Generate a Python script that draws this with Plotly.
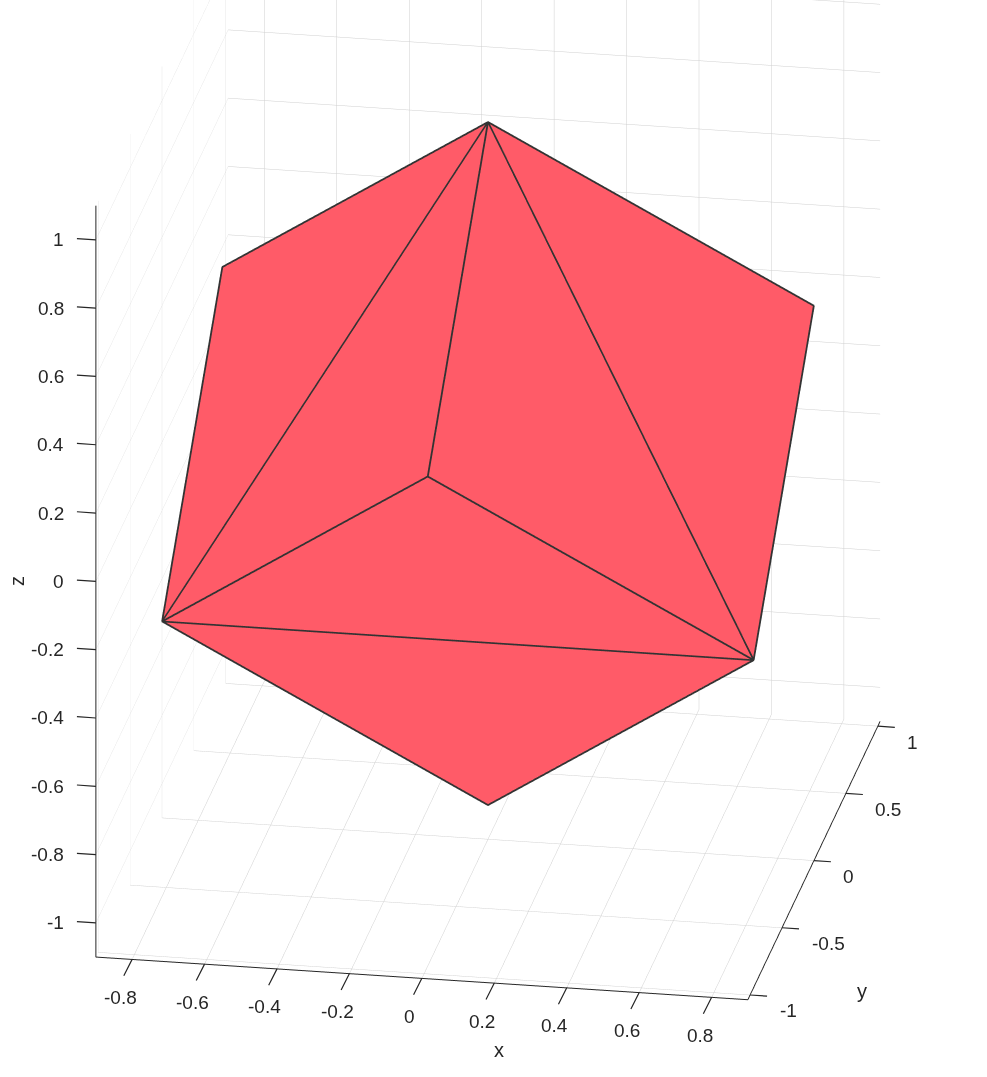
import plotly.graph_objects as go

# Cube vertices: N T L R UL UR B O
vx = [0.0, 0.0, -0.8165, 0.8165, -0.8165, 0.8165, 0.0, 0.0]
vy = [-0.9428, 0.0, -0.4714, -0.4714, 0.4714, 0.4714, 0.0, 0.9428]
vz = [0.3333, 1.0, -0.3333, -0.3333, 0.3333, 0.3333, -1.0, -0.3333]
tri_i = [0, 4, 0, 5, 0, 3, 7, 7, 7, 7, 7, 7]
tri_j = [1, 1, 1, 1, 2, 2, 4, 1, 4, 2, 5, 3]
tri_k = [2, 2, 3, 3, 3, 6, 1, 5, 2, 6, 3, 6]
x_ticks = [-0.8, -0.6, -0.4, -0.2, 0, 0.2, 0.4, 0.6, 0.8]
y_ticks = [-1, -0.5, 0, 0.5, 1]
z_ticks = [-1, -0.8, -0.6, -0.4, -0.2, 0, 0.2, 0.4, 0.6, 0.8, 1]
x_range = [-0.9, 0.9]
y_range = [-1.035, 1.035]
z_range = [-1.1, 1.1]

FACE = "#ff5b68"
EDGE = "#333333"
TEXT = "#262626"
GRID = "#cfcfcf"
view_dir = (0.1612, -0.914, 0.371)
view_dist = 2.0
view_center = (0.01905, -0.0491, -0.1292)
box_scale = 1.366
face_inset = 0.997  # keeps the faces just behind their edge lines
edge_pull = 0.9999  # keeps tick anchors just inside the axis range
TICK_FONT = dict(family="Liberation Sans", size=19, color=TEXT)

edge_x, edge_y, edge_z = [], [], []
for a, b, c in zip(tri_i, tri_j, tri_k):
    for v in (a, b, c, a):
        edge_x.append(vx[v]); edge_y.append(vy[v]); edge_z.append(vz[v])
    edge_x.append(None); edge_y.append(None); edge_z.append(None)

fig = go.Figure()
fig.add_trace(go.Mesh3d(x=[v * face_inset for v in vx], y=[v * face_inset for v in vy],
                        z=[v * face_inset for v in vz], i=tri_i, j=tri_j, k=tri_k, color=FACE, opacity=1,
                        flatshading=True, hoverinfo="skip",
                        lighting=dict(ambient=1, diffuse=0, specular=0, fresnel=0, roughness=1)))
fig.add_trace(go.Scatter3d(x=edge_x, y=edge_y, z=edge_z, mode="lines", hoverinfo="skip",
                           line=dict(color=EDGE, width=3.6)))

def axis(ticks, rng):
    return dict(title=dict(text=""), range=rng, tickmode="array", tickvals=ticks,
                showticklabels=False, ticks="",
                showbackground=False, showgrid=True, gridcolor=GRID, gridwidth=1,
                showline=True, linecolor=TEXT, linewidth=2, zeroline=False, showspikes=False)

def tick_marks(x, y, z, text, ax, ay, xanchor, xshift, yshift):
    mark = dict(x=x, y=y, z=z, showarrow=True, arrowhead=0, arrowwidth=1.2, arrowcolor=TEXT, ax=ax, ay=ay)
    label = dict(x=x, y=y, z=z, text=text, showarrow=False, xanchor=xanchor, yanchor="middle",
                 xshift=xshift, yshift=yshift, font=TICK_FONT)
    return [mark, label]

x_lo, x_hi = x_range[0] * edge_pull, x_range[1] * edge_pull
y_lo = y_range[0] * edge_pull
z_lo = z_range[0] * edge_pull

scene_notes = []
for t in x_ticks:
    scene_notes += tick_marks(t, y_lo, z_lo, str(t), -11.3, 22.4, "center", -12, -38)
for t in y_ticks:
    scene_notes += tick_marks(x_hi, t, z_lo, str(t), 20, 1.4, "left", 27.5, -16)
for t in z_ticks:
    scene_notes += tick_marks(x_lo, y_lo, t, str(t), -22, -1.5, "right", -30, 0)

def title(text, px, py):
    return dict(text=text, x=px / 987, y=1 - py / 1077, xref="paper", yref="paper", showarrow=False,
                xanchor="center", yanchor="middle",
                font=dict(family="Liberation Sans", size=20, color=TEXT))

fig.update_layout(
    width=987, height=1077, margin=dict(l=0, r=0, t=0, b=0), showlegend=False,
    paper_bgcolor="white",
    annotations=[title("x", 499, 1050), title("y", 862, 991), dict(title("z", 17, 581), textangle=-90)],
    scene=dict(
        domain=dict(x=[0, 1], y=[0, 1]),
        xaxis=axis(x_ticks, x_range),
        yaxis=axis(y_ticks, y_range),
        zaxis=axis(z_ticks, z_range),
        annotations=scene_notes,
        aspectmode="manual",
        aspectratio=dict(x=x_range[1] * box_scale, y=y_range[1] * box_scale, z=z_range[1] * box_scale),
        camera=dict(projection=dict(type="orthographic"),
                    center=dict(x=view_center[0], y=view_center[1], z=view_center[2]),
                    up=dict(x=0, y=0, z=1),
                    eye=dict(x=view_center[0] + view_dir[0] * view_dist,
                             y=view_center[1] + view_dir[1] * view_dist,
                             z=view_center[2] + view_dir[2] * view_dist)),
    ),
)
fig.write_html("out.html", post_script="document.body.style.margin='0';",
               config={"displayModeBar": False})
